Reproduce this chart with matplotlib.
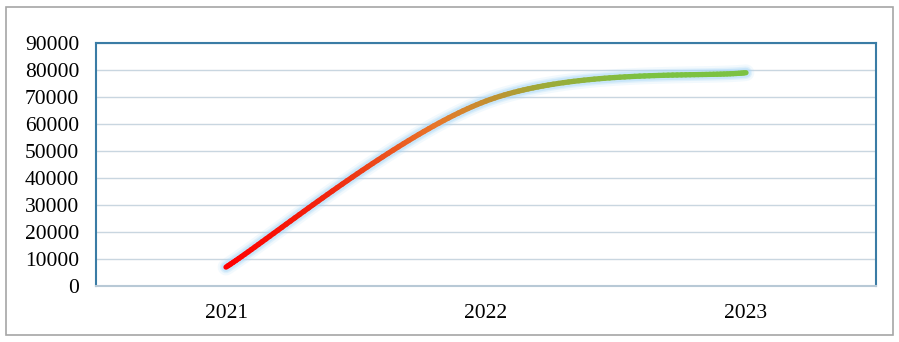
import numpy as np
import matplotlib.pyplot as plt
from matplotlib.collections import LineCollection
from matplotlib.colors import LinearSegmentedColormap
from matplotlib.patches import Rectangle

# data
years = ["2021", "2022", "2023"]
values = [7000, 68500, 79000]
yticks = [0, 10000, 20000, 30000, 40000, 50000, 60000, 70000, 80000, 90000]

plt.rcParams['font.family'] = ['Liberation Serif', 'DejaVu Serif']

fig = plt.figure(figsize=(8.99, 3.42), dpi=100)
fig.patches.append(Rectangle((6 / 899, 7 / 342), 887 / 899, 328 / 342,
                             transform=fig.transFigure, fill=False,
                             edgecolor='#a6a6a6', linewidth=1.2))
ax = fig.add_axes([96 / 899, 56 / 342, 780 / 899, 243 / 342])

x = np.arange(len(years), dtype=float)
y = np.array(values, dtype=float)

# smooth line like Excel (bezier through the points)
pts = np.column_stack([x, y])
ext = np.vstack([pts[0], pts, pts[-1]])
seg_pts = []
t = np.linspace(0, 1, 60)
for i in range(len(pts) - 1):
    p0, p1 = ext[i + 1], ext[i + 2]
    c1 = p0 + (ext[i + 2] - ext[i]) / 6
    c2 = p1 - (ext[i + 3] - ext[i + 1]) / 6
    b = ((1 - t) ** 3)[:, None] * p0 + (3 * (1 - t) ** 2 * t)[:, None] * c1 \
        + (3 * (1 - t) * t ** 2)[:, None] * c2 + (t ** 3)[:, None] * p1
    seg_pts.append(b if i == 0 else b[1:])
curve = np.vstack(seg_pts)

# glow
for lw, a in [(12, 0.15), (9, 0.25), (7, 0.4)]:
    ax.plot(curve[:, 0], curve[:, 1], color='#a8d8f8', linewidth=lw, alpha=a,
            solid_capstyle='round', zorder=2)

cmap = LinearSegmentedColormap.from_list('rg', ['#ff0000', '#f02810', '#e8762a', '#a0a838', '#7cc242', '#7cc242'])
segs = np.stack([curve[:-1], curve[1:]], axis=1)
frac = (curve[:-1, 0] - x[0]) / (x[-1] - x[0])
lc = LineCollection(segs, colors=cmap(frac), linewidth=3.8, capstyle='round', zorder=3)
ax.add_collection(lc)

ax.set_xlim(-0.5, len(years) - 0.5)
ax.set_ylim(0, 90000)
ax.set_yticks(yticks)
ax.set_xticks(x)
ax.set_xticklabels(years)
ax.tick_params(length=0, labelsize=15.5, colors='black')
ax.tick_params(axis='x', pad=13)
ax.tick_params(axis='y', pad=12)
ax.grid(axis='y', color='#c9d6e0', linewidth=1)
ax.set_axisbelow(True)
for s in ['left', 'top', 'right']:
    ax.spines[s].set_color('#3a7ca5')
    ax.spines[s].set_linewidth(1.5)
ax.spines['bottom'].set_color('#b8c9d6')
ax.spines['bottom'].set_linewidth(1.5)

fig.savefig('out.png', dpi=100)
